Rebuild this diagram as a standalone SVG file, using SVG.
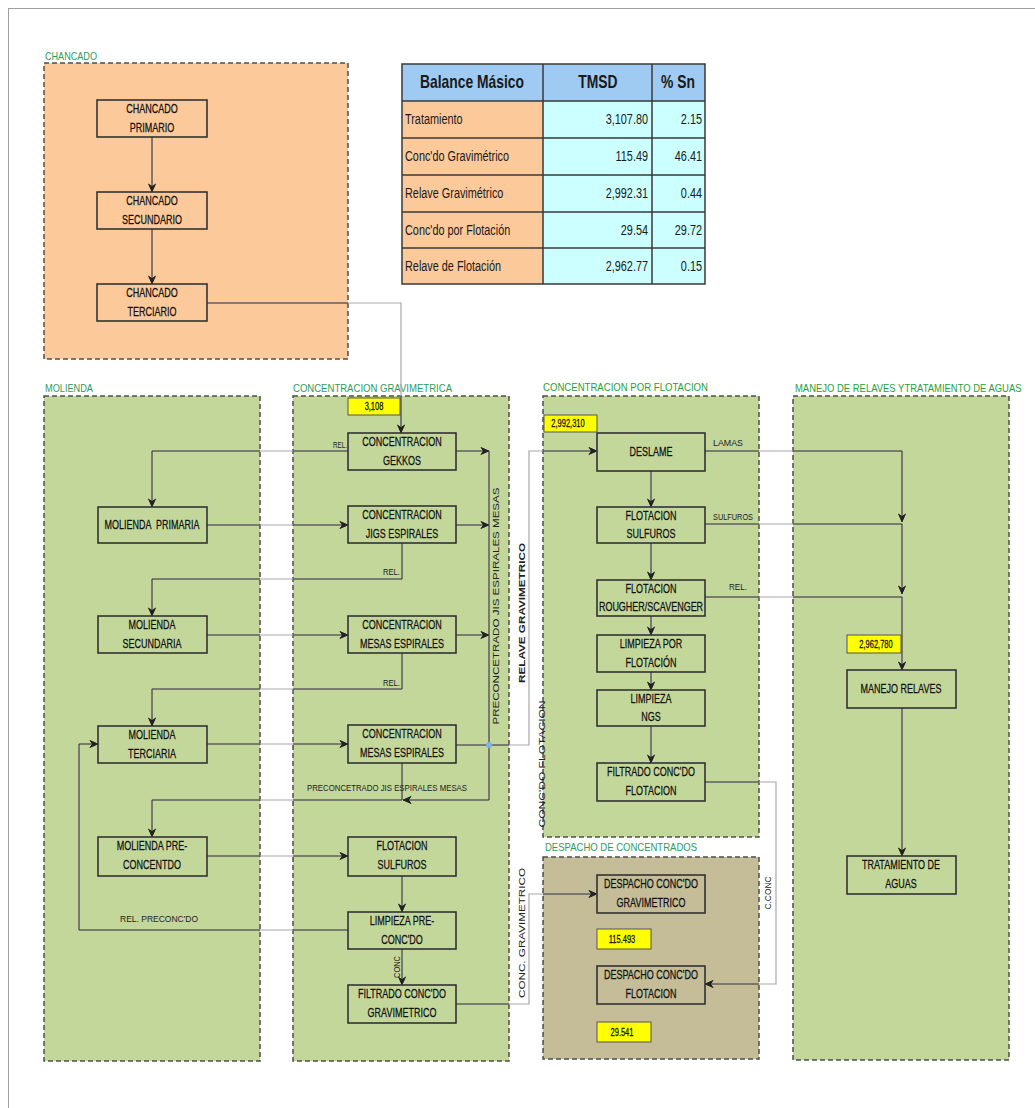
<svg xmlns="http://www.w3.org/2000/svg" xmlns:xlink="http://www.w3.org/1999/xlink" width="1035" height="1108" viewBox="0 0 1035 1108">
<style>
.reg{stroke:#4d4d4d;stroke-width:1.5;stroke-dasharray:5 3}
.green{fill:#c4d79b}.peach{fill:#fcc99a}.tan{fill:#c4bd97}
.nd{fill:none;stroke:#333;stroke-width:1.6}
.t{font-family:"Liberation Sans",Arial,sans-serif;font-size:12px;fill:#111;stroke:#111;stroke-width:0.25;text-anchor:middle}
.lbl{font-family:"Liberation Sans",Arial,sans-serif;font-size:11px;fill:#2e9b5c}
.lbl2{fill:#27a03a}
.sm{font-family:"Liberation Sans",Arial,sans-serif;font-size:9px;fill:#222}
.yl{fill:#ffff00;stroke:#555;stroke-width:1}
.yt{font-size:10px}
.th{font-family:"Liberation Sans",Arial,sans-serif;font-size:18.5px;font-weight:bold;fill:#1a1a1a;text-anchor:middle}
.tb{font-family:"Liberation Sans",Arial,sans-serif;font-size:14.5px;fill:#1a1a1a}
.grid{stroke:#3a3a3a;stroke-width:1.5;fill:none}
</style>
<defs>
<marker id="ah" viewBox="0 0 10 10" refX="9.5" refY="5" markerWidth="9" markerHeight="9" markerUnits="userSpaceOnUse" orient="auto">
<path d="M0,0.5 L10,5 L0,9.5 L3,5 z" fill="#222"/>
</marker>
<clipPath id="rc">
<rect x="44" y="63" width="304" height="296"/>
<rect x="44" y="396" width="216" height="665"/>
<rect x="293" y="396" width="216" height="665"/>
<rect x="543" y="396" width="216" height="441"/>
<rect x="543" y="857" width="216" height="202"/>
<rect x="793" y="396" width="216" height="664"/>
</clipPath>
</defs>
<rect x="0" y="0" width="1035" height="1108" fill="#fff"/>
<rect x="8.5" y="8.5" width="1040" height="1110" fill="none" stroke="#a0a0a0" stroke-width="1"/>

<g id="regions">
<rect class="reg peach" x="44" y="63" width="304" height="296"/>
<rect class="reg green" x="44" y="396" width="216" height="665"/>
<rect class="reg green" x="293" y="396" width="216" height="665"/>
<rect class="reg green" x="543" y="396" width="216" height="441"/>
<rect class="reg tan" x="543" y="857" width="216" height="202"/>
<rect class="reg green" x="793" y="396" width="216" height="664"/>
<text class="lbl" x="45" y="60" textLength="52" lengthAdjust="spacingAndGlyphs">CHANCADO</text>
<text class="lbl" x="45" y="392" textLength="48" lengthAdjust="spacingAndGlyphs">MOLIENDA</text>
<text class="lbl" x="293" y="392" textLength="159" lengthAdjust="spacingAndGlyphs">CONCENTRACION  GRAVIMETRICA</text>
<text class="lbl lbl2" x="543" y="391" textLength="165" lengthAdjust="spacingAndGlyphs">CONCENTRACION  POR FLOTACION</text>
<text class="lbl" x="545" y="851" textLength="152" lengthAdjust="spacingAndGlyphs">DESPACHO  DE CONCENTRADOS</text>
<text class="lbl lbl2" transform="translate(795,392) scale(0.86,1)">MANEJO DE RELAVES YTRATAMIENTO DE AGUAS</text>
</g>

<g fill="none" stroke="#a8a8a8" stroke-width="1.2">
<g id="connectors">
<path d="M152,137V192" marker-end="url(#ah)"/>
<path d="M152,229V284" marker-end="url(#ah)"/>
<path d="M207,303H401V433" marker-end="url(#ah)"/>
<path d="M348,451H152V507" marker-end="url(#ah)"/>
<path d="M207,525H348" marker-end="url(#ah)"/>
<path d="M402,543V579H152V616" marker-end="url(#ah)"/>
<path d="M207,635H348" marker-end="url(#ah)"/>
<path d="M402,653V689H152V726" marker-end="url(#ah)"/>
<path d="M207,744H348" marker-end="url(#ah)"/>
<path d="M402,763V800H152V837" marker-end="url(#ah)"/>
<path d="M456,451H489" marker-end="url(#ah)"/>
<path d="M456,525H489" marker-end="url(#ah)"/>
<path d="M456,635H489" marker-end="url(#ah)"/>
<path d="M489,451V800H403" marker-end="url(#ah)"/>
<path d="M456,745H529V451H597" marker-end="url(#ah)"/>
<path d="M207,856H348" marker-end="url(#ah)"/>
<path d="M402,876V912" marker-end="url(#ah)"/>
<path d="M348,930H79V744H98" marker-end="url(#ah)"/>
<path d="M402,949V985" marker-end="url(#ah)"/>
<path d="M456,1004H529V894H597" marker-end="url(#ah)"/>
<path d="M651,471V507" marker-end="url(#ah)"/>
<path d="M651,543V580" marker-end="url(#ah)"/>
<path d="M651,616V635" marker-end="url(#ah)"/>
<path d="M651,672V690" marker-end="url(#ah)"/>
<path d="M651,726V763" marker-end="url(#ah)"/>
<path d="M705,451H902V522" marker-end="url(#ah)"/>
<path d="M705,524H902V594" marker-end="url(#ah)"/>
<path d="M705,597H902V670" marker-end="url(#ah)"/>
<path d="M902,708V856" marker-end="url(#ah)"/>
<path d="M705,782H776V984H705" marker-end="url(#ah)"/>
</g>
</g>
<use xlink:href="#connectors" href="#connectors" fill="none" stroke="#3a3a3a" clip-path="url(#rc)"/>
<circle cx="489" cy="745" r="3" fill="#7fb2e5"/>

<g id="conn-labels">
<text class="sm" x="333" y="448" textLength="14" lengthAdjust="spacingAndGlyphs">REL.</text>
<text class="sm" x="383" y="575" textLength="17" lengthAdjust="spacingAndGlyphs">REL.</text>
<text class="sm" x="383" y="686" textLength="17" lengthAdjust="spacingAndGlyphs">REL.</text>
<text class="sm" x="307" y="791" textLength="160" lengthAdjust="spacingAndGlyphs">PRECONCETRADO  JIS ESPIRALES  MESAS</text>
<text class="sm" x="120" y="922" textLength="78" lengthAdjust="spacingAndGlyphs">REL. PRECONC'DO</text>
<text class="sm" x="713" y="446" textLength="30" lengthAdjust="spacingAndGlyphs">LAMAS</text>
<text class="sm" x="713" y="520" textLength="40" lengthAdjust="spacingAndGlyphs">SULFUROS</text>
<text class="sm" x="729" y="590" textLength="18" lengthAdjust="spacingAndGlyphs">REL.</text>
<text class="sm" transform="translate(499,606) rotate(-90)" text-anchor="middle" textLength="237" lengthAdjust="spacingAndGlyphs">PRECONCETRADO  JIS ESPIRALES  MESAS</text>
<text class="sm" transform="translate(525,613) rotate(-90)" text-anchor="middle" font-weight="bold" textLength="140" lengthAdjust="spacingAndGlyphs">RELAVE  GRAVIMETRICO</text>
<text class="sm" transform="translate(545,764) rotate(-90)" text-anchor="middle" textLength="127" lengthAdjust="spacingAndGlyphs">CONC'DO FLOTACION</text>
<text class="sm" transform="translate(525,933) rotate(-90)" text-anchor="middle" fill="#555" textLength="130" lengthAdjust="spacingAndGlyphs">CONC.  GRAVIMETRICO</text>
<text class="sm" transform="translate(771,893) rotate(-90)" text-anchor="middle" fill="#444" font-size="8" textLength="33" lengthAdjust="spacingAndGlyphs">C.CONC</text>
<text class="sm" transform="translate(400,967) rotate(-90)" text-anchor="middle" fill="#555" font-size="6.5" textLength="22" lengthAdjust="spacingAndGlyphs">CONC</text>
</g>

<g id="n-chancado-primario"><rect class="nd" x="97" y="100" width="110" height="37"/>
<text class="t" transform="translate(152,113) scale(0.75,1)">CHANCADO</text><text class="t" transform="translate(152,132) scale(0.75,1)">PRIMARIO</text></g>
<g id="n-chancado-secundario"><rect class="nd" x="97" y="192" width="110" height="37"/>
<text class="t" transform="translate(152,205) scale(0.75,1)">CHANCADO</text><text class="t" transform="translate(152,224) scale(0.75,1)">SECUNDARIO</text></g>
<g id="n-chancado-terciario"><rect class="nd" x="97" y="284" width="110" height="37"/>
<text class="t" transform="translate(152,297) scale(0.75,1)">CHANCADO</text><text class="t" transform="translate(152,316) scale(0.75,1)">TERCIARIO</text></g>

<g id="n-molienda-primaria"><rect class="nd" x="98" y="507" width="109" height="36"/>
<text class="t" transform="translate(152,529) scale(0.75,1)" xml:space="preserve">MOLIENDA  PRIMARIA</text></g>
<g id="n-molienda-secundaria"><rect class="nd" x="98" y="616" width="109" height="37"/>
<text class="t" transform="translate(152,629) scale(0.75,1)">MOLIENDA</text><text class="t" transform="translate(152,648) scale(0.75,1)">SECUNDARIA</text></g>
<g id="n-molienda-terciaria"><rect class="nd" x="98" y="726" width="109" height="37"/>
<text class="t" transform="translate(152,739) scale(0.75,1)">MOLIENDA</text><text class="t" transform="translate(152,758) scale(0.75,1)">TERCIARIA</text></g>
<g id="n-molienda-pre"><rect class="nd" x="98" y="837" width="109" height="39"/>
<text class="t" transform="translate(152,850) scale(0.75,1)">MOLIENDA PRE-</text><text class="t" transform="translate(152,869) scale(0.75,1)">CONCENTDO</text></g>

<g id="n-conc-gekkos"><rect class="nd" x="348" y="433" width="108" height="37"/>
<text class="t" transform="translate(402,446) scale(0.75,1)">CONCENTRACION</text><text class="t" transform="translate(402,465) scale(0.75,1)">GEKKOS</text></g>
<g id="n-conc-jigs"><rect class="nd" x="348" y="506" width="108" height="37"/>
<text class="t" transform="translate(402,519) scale(0.75,1)">CONCENTRACION</text><text class="t" transform="translate(402,538) scale(0.75,1)">JIGS ESPIRALES</text></g>
<g id="n-conc-mesas-1"><rect class="nd" x="348" y="616" width="108" height="37"/>
<text class="t" transform="translate(402,629) scale(0.75,1)">CONCENTRACION</text><text class="t" transform="translate(402,648) scale(0.75,1)">MESAS ESPIRALES</text></g>
<g id="n-conc-mesas-2"><rect class="nd" x="348" y="725" width="108" height="38"/>
<text class="t" transform="translate(402,738) scale(0.75,1)">CONCENTRACION</text><text class="t" transform="translate(402,757) scale(0.75,1)">MESAS ESPIRALES</text></g>
<g id="n-grav-flot-sulfuros"><rect class="nd" x="348" y="837" width="108" height="39"/>
<text class="t" transform="translate(402,850) scale(0.75,1)">FLOTACION</text><text class="t" transform="translate(402,869) scale(0.75,1)">SULFUROS</text></g>
<g id="n-limpieza-pre"><rect class="nd" x="348" y="912" width="108" height="37"/>
<text class="t" transform="translate(402,925) scale(0.75,1)">LIMPIEZA PRE-</text><text class="t" transform="translate(402,944) scale(0.75,1)">CONC'DO</text></g>
<g id="n-filtrado-grav"><rect class="nd" x="348" y="985" width="108" height="38"/>
<text class="t" transform="translate(402,998) scale(0.75,1)">FILTRADO CONC'DO</text><text class="t" transform="translate(402,1017) scale(0.75,1)">GRAVIMETRICO</text></g>

<g id="n-deslame"><rect class="nd" x="597" y="433" width="108" height="38"/>
<text class="t" transform="translate(651,456) scale(0.75,1)">DESLAME</text></g>
<g id="n-flot-sulfuros"><rect class="nd" x="597" y="507" width="108" height="36"/>
<text class="t" transform="translate(651,520) scale(0.75,1)">FLOTACION</text><text class="t" transform="translate(651,538) scale(0.75,1)">SULFUROS</text></g>
<g id="n-flot-rougher"><rect class="nd" x="597" y="580" width="108" height="36"/>
<text class="t" transform="translate(651,593) scale(0.75,1)">FLOTACION</text><text class="t" transform="translate(651,611) scale(0.75,1)" font-size="10">ROUGHER/SCAVENGER</text></g>
<g id="n-limpieza-flot"><rect class="nd" x="597" y="635" width="108" height="37"/>
<text class="t" transform="translate(651,648) scale(0.75,1)">LIMPIEZA POR</text><text class="t" transform="translate(651,667) scale(0.75,1)">FLOTACIÓN</text></g>
<g id="n-limpieza-ngs"><rect class="nd" x="597" y="690" width="108" height="36"/>
<text class="t" transform="translate(651,703) scale(0.75,1)">LIMPIEZA</text><text class="t" transform="translate(651,721) scale(0.75,1)">NGS</text></g>
<g id="n-filtrado-flot"><rect class="nd" x="597" y="763" width="108" height="38"/>
<text class="t" transform="translate(651,776) scale(0.75,1)">FILTRADO CONC'DO</text><text class="t" transform="translate(651,795) scale(0.75,1)">FLOTACION</text></g>

<g id="n-despacho-grav"><rect class="nd" x="597" y="875" width="108" height="38"/>
<text class="t" transform="translate(651,888) scale(0.75,1)">DESPACHO CONC'DO</text><text class="t" transform="translate(651,907) scale(0.75,1)">GRAVIMETRICO</text></g>
<g id="n-despacho-flot"><rect class="nd" x="597" y="966" width="108" height="38"/>
<text class="t" transform="translate(651,979) scale(0.75,1)">DESPACHO CONC'DO</text><text class="t" transform="translate(651,998) scale(0.75,1)">FLOTACION</text></g>

<g id="n-manejo-relaves"><rect class="nd" x="847" y="670" width="109" height="38"/>
<text class="t" transform="translate(901,693) scale(0.75,1)">MANEJO RELAVES</text></g>
<g id="n-tratamiento-aguas"><rect class="nd" x="847" y="856" width="109" height="38"/>
<text class="t" transform="translate(901,869) scale(0.75,1)">TRATAMIENTO DE</text><text class="t" transform="translate(901,888) scale(0.75,1)">AGUAS</text></g>

<g id="flow-values">
<rect class="yl" x="348" y="398" width="52" height="17"/><text class="t yt" transform="translate(374,410) scale(0.75,1)">3,108</text>
<rect class="yl" x="544" y="415" width="53" height="17"/><text class="t yt" transform="translate(568,427) scale(0.75,1)">2,992,310</text>
<rect class="yl" x="847" y="635" width="54" height="18"/><text class="t yt" transform="translate(876,648) scale(0.75,1)">2,962,780</text>
<rect class="yl" x="597" y="929" width="54" height="20"/><text class="t yt" transform="translate(622,943) scale(0.75,1)">115.493</text>
<rect class="yl" x="597" y="1022" width="54" height="20"/><text class="t yt" transform="translate(622,1036) scale(0.75,1)">29.541</text>
</g>

<g id="balance-table">
<rect x="402" y="64" width="303" height="37" fill="#9fcaf2"/>
<rect x="402" y="101" width="141" height="183" fill="#fcc99a"/>
<rect x="543" y="101" width="162" height="183" fill="#ccffff"/>
<path class="grid" d="M402,64H705V284H402Z M402,101H705 M402,138H705 M402,175H705 M402,212H705 M402,248H705 M543,64V284 M652,64V284"/>
<text class="th" transform="translate(472,88) scale(0.75,1)">Balance Másico</text>
<text class="th" transform="translate(598,88) scale(0.75,1)">TMSD</text>
<text class="th" transform="translate(678,88) scale(0.75,1)">% Sn</text>
<g class="tb">
<text transform="translate(405,124) scale(0.75,1)">Tratamiento</text>
<text transform="translate(405,161) scale(0.75,1)">Conc'do Gravimétrico</text>
<text transform="translate(405,198) scale(0.75,1)">Relave Gravimétrico</text>
<text transform="translate(405,235) scale(0.75,1)">Conc'do por Flotación</text>
<text transform="translate(405,271) scale(0.75,1)">Relave de Flotación</text>
</g>
<g class="tb" text-anchor="end">
<text transform="translate(648,124) scale(0.75,1)">3,107.80</text>
<text transform="translate(648,161) scale(0.75,1)">115.49</text>
<text transform="translate(648,198) scale(0.75,1)">2,992.31</text>
<text transform="translate(648,235) scale(0.75,1)">29.54</text>
<text transform="translate(648,271) scale(0.75,1)">2,962.77</text>
<text transform="translate(702,124) scale(0.75,1)">2.15</text>
<text transform="translate(702,161) scale(0.75,1)">46.41</text>
<text transform="translate(702,198) scale(0.75,1)">0.44</text>
<text transform="translate(702,235) scale(0.75,1)">29.72</text>
<text transform="translate(702,271) scale(0.75,1)">0.15</text>
</g>
</g>
</svg>
